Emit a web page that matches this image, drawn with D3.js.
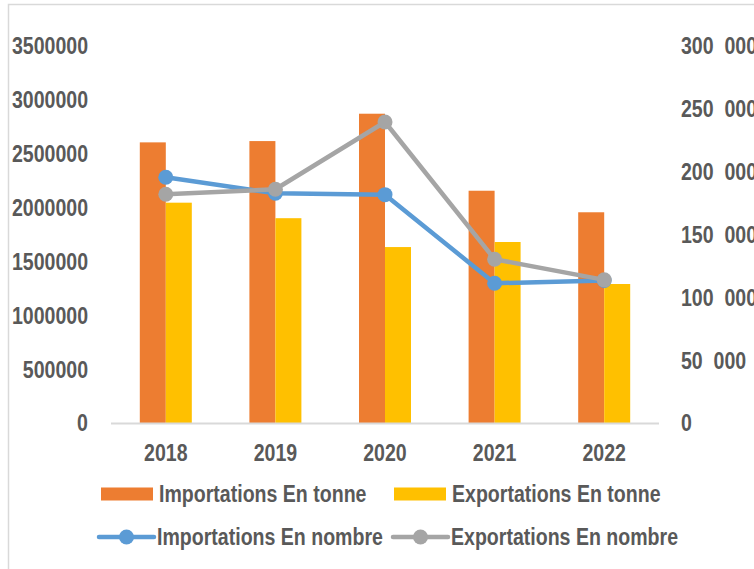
<!DOCTYPE html>
<html>
<head>
<meta charset="utf-8">
<script src="https://cdn.jsdelivr.net/npm/d3@7"></script>
<style>
  body { margin: 0; background: #fff; }
  text { font-family: "Liberation Sans Narrow", "Arial Narrow", "Liberation Sans", sans-serif; font-weight: bold; fill: #595959; }
</style>
</head>
<body>
<svg id="chart" width="754" height="569"></svg>
<script>
//years on the x axis
const years = ["2018", "2019", "2020", "2021", "2022"];
//bar series (tonnes, left axis)
const importTonnes = [2610000, 2622000, 2876000, 2161000, 1961000];
const exportTonnes = [2050000, 1906000, 1638000, 1685000, 1295000];
//line series (counts, right axis)
const importNombre = [195900, 183200, 182100, 111600, 113800];
const exportNombre = [182400, 186400, 239900, 130700, 114300];
//tick values for both axes
const leftTicks = [0, 500000, 1000000, 1500000, 2000000, 2500000, 3000000, 3500000];
const rightTicks = [0, 50000, 100000, 150000, 200000, 250000, 300000];

const colors = {
    impT: "#ED7D31",
    expT: "#FFC000",
    impN: "#5B9BD5",
    expN: "#A5A5A5"
};

const svg = d3.select("#chart");

//light frame of the chart area, only left and top show
svg.append("rect")
    .attr("x", 8.5).attr("y", 4.5)
    .attr("width", 900).attr("height", 700)
    .attr("fill", "none")
    .attr("stroke", "#D9D9D9")
    .attr("stroke-width", 1.5);

const plot = { left: 111, right: 659, top: 46.5, bottom: 423.5 };

const x = d3.scaleBand()
    .domain(years)
    .range([plot.left, plot.right]);

const yLeft = d3.scaleLinear()
    .domain([0, 3500000])
    .range([plot.bottom, plot.top]);

const yRight = d3.scaleLinear()
    .domain([0, 300000])
    .range([plot.bottom, plot.top]);

//bars sit side by side inside each band
const barW = 26;

const barData = years.map((y, i) => ({ year: y, imp: importTonnes[i], exp: exportTonnes[i] }));

svg.append("g").selectAll("rect")
    .data(barData)
    .enter().append("rect")
    .attr("x", d => x(d.year) + x.bandwidth() / 2 - barW)
    .attr("y", d => yLeft(d.imp))
    .attr("width", barW)
    .attr("height", d => yLeft(0) - yLeft(d.imp))
    .attr("fill", colors.impT);

svg.append("g").selectAll("rect")
    .data(barData)
    .enter().append("rect")
    .attr("x", d => x(d.year) + x.bandwidth() / 2)
    .attr("y", d => yLeft(d.exp))
    .attr("width", barW)
    .attr("height", d => yLeft(0) - yLeft(d.exp))
    .attr("fill", colors.expT);

//x axis line, no ticks
svg.append("line")
    .attr("x1", plot.left).attr("x2", plot.right)
    .attr("y1", yLeft(0)).attr("y2", yLeft(0))
    .attr("stroke", "#D9D9D9")
    .attr("stroke-width", 2);

//line series drawn on the right axis scale
function drawLine(values, color) {
    const pts = values.map((v, i) => [x(years[i]) + x.bandwidth() / 2, yRight(v)]);
    svg.append("path")
        .attr("d", d3.line()(pts))
        .attr("fill", "none")
        .attr("stroke", color)
        .attr("stroke-width", 4.5)
        .attr("stroke-linejoin", "round");
    svg.append("g").selectAll("circle")
        .data(pts)
        .enter().append("circle")
        .attr("cx", d => d[0])
        .attr("cy", d => d[1])
        .attr("r", 7.5)
        .attr("fill", color);
}
drawLine(importNombre, colors.impN);
drawLine(exportNombre, colors.expN);

const fontSize = 23;

//left axis labels
const leftAxis = svg.append("g")
    .attr("transform", `translate(${plot.left - 23},0)`)
    .call(d3.axisLeft(yLeft).tickValues(leftTicks).tickFormat(d3.format("d")).tickSize(0).tickPadding(0));
leftAxis.select(".domain").remove();
leftAxis.selectAll("text")
    .attr("font-size", fontSize)
    .attr("font-family", null)
    .attr("fill", null);

//right axis labels, thousands split with a double space
const rightAxis = svg.append("g")
    .attr("transform", `translate(${plot.right + 22},0)`)
    .call(d3.axisRight(yRight).tickValues(rightTicks)
        .tickFormat(d => d === 0 ? "0" : d3.format(",")(d).replace(",", "\u00a0\u00a0"))
        .tickSize(0).tickPadding(0));
rightAxis.select(".domain").remove();
rightAxis.selectAll("text")
    .attr("font-size", fontSize)
    .attr("font-family", null)
    .attr("fill", null);

//year labels under the axis
svg.append("g").selectAll("text")
    .data(years)
    .enter().append("text")
    .attr("x", d => x(d) + x.bandwidth() / 2)
    .attr("y", 460.5)
    .attr("text-anchor", "middle")
    .attr("font-size", fontSize)
    .text(d => d);

//legend, two rows of two entries
const legendItems = [
    { label: "Importations En tonne", color: colors.impT, type: "bar", x: 101, y: 494 },
    { label: "Exportations En tonne", color: colors.expT, type: "bar", x: 394, y: 494 },
    { label: "Importations En nombre", color: colors.impN, type: "line", x: 99, y: 537 },
    { label: "Exportations En nombre", color: colors.expN, type: "line", x: 393, y: 537 }
];

const legend = svg.append("g");
legendItems.forEach(item => {
    const g = legend.append("g").attr("transform", `translate(${item.x},${item.y})`);
    if (item.type === "bar") {
        g.append("rect")
            .attr("x", 0).attr("y", -6.5)
            .attr("width", 52).attr("height", 13)
            .attr("fill", item.color);
    } else {
        g.append("line")
            .attr("x1", 0).attr("x2", 55)
            .attr("y1", 0).attr("y2", 0)
            .attr("stroke", item.color)
            .attr("stroke-width", 4.5)
            .attr("stroke-linecap", "round");
        g.append("circle")
            .attr("cx", 27.5).attr("cy", 0)
            .attr("r", 7.5)
            .attr("fill", item.color);
    }
    g.append("text")
        .attr("x", 58)
        .attr("y", 8)
        .attr("font-size", fontSize)
        .text(item.label);
});

//no narrow font installed, so squeeze every label to a narrow width
//only if the browser fell back to the wide font
const probe = svg.append("text").attr("font-size", 100).text("0000000");
const narrowFound = probe.node().getComputedTextLength() < 360;
probe.remove();
if (!narrowFound) {
    svg.selectAll("text").each(function() {
        const w = this.getComputedTextLength();
        d3.select(this)
            .attr("textLength", w * 0.85)
            .attr("lengthAdjust", "spacingAndGlyphs");
    });
}
</script>
</body>
</html>
